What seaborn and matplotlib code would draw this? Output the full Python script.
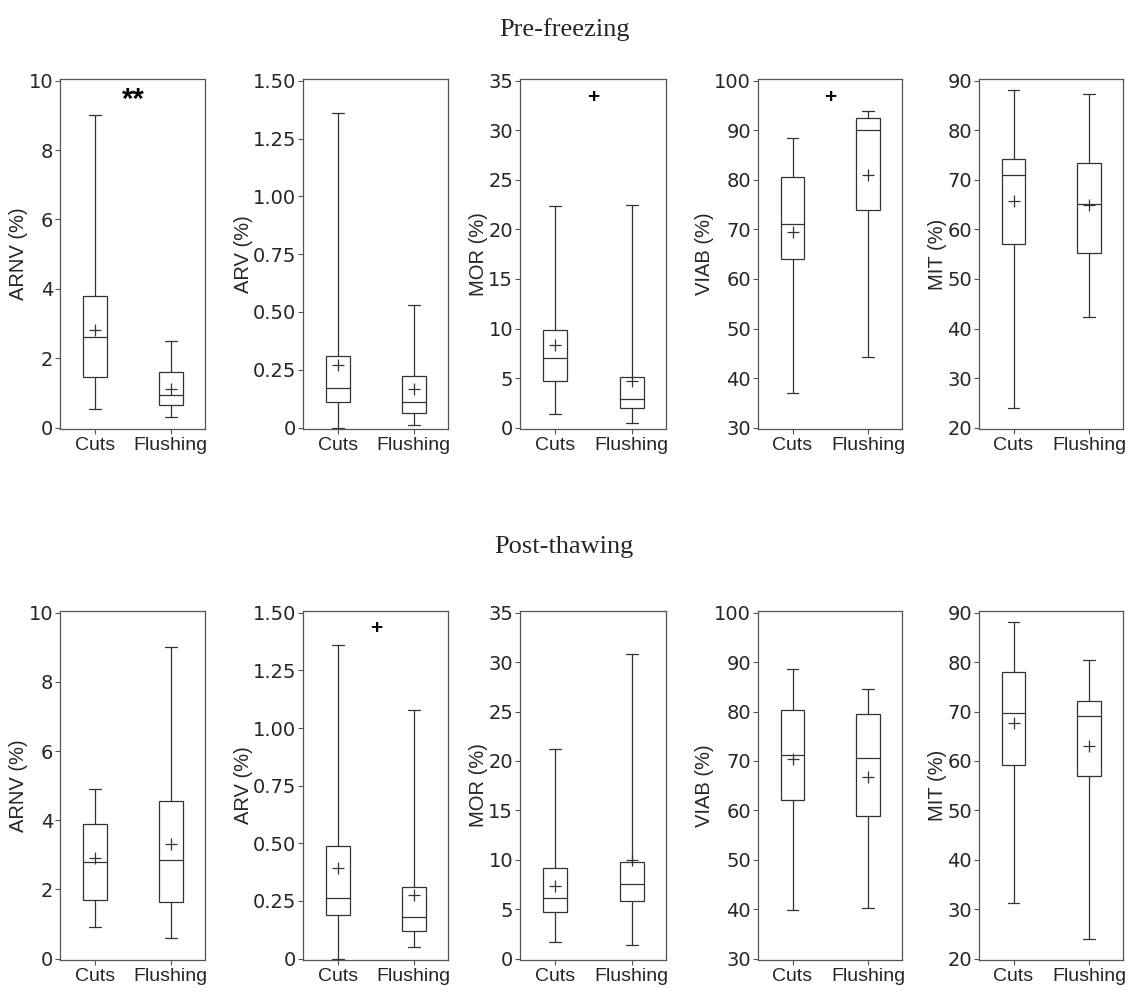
import numpy as np
import pandas as pd
import matplotlib
matplotlib.use("Agg")
import matplotlib.pyplot as plt
import seaborn as sns

# ---------------- data ----------------
variables = ["ARNV", "ARV", "MOR", "VIAB", "MIT"]
groups = ["Cuts", "Flushing"]
stages = ["Pre-freezing", "Post-thawing"]

# Pre-freezing, Cuts
pre_cuts_min = [0.55, 0.00, 1.4, 37.0, 24.0]
pre_cuts_q1 = [1.45, 0.11, 4.7, 64.0, 57.0]
pre_cuts_med = [2.60, 0.17, 7.0, 71.0, 71.0]
pre_cuts_q3 = [3.80, 0.31, 9.8, 80.5, 74.2]
pre_cuts_max = [9.00, 1.36, 22.4, 88.5, 88.2]
pre_cuts_mean = [2.80, 0.27, 8.3, 69.5, 65.8]
# Pre-freezing, Flushing
pre_flush_min = [0.30, 0.010, 0.5, 44.3, 42.3]
pre_flush_q1 = [0.65, 0.065, 2.0, 74.0, 55.3]
pre_flush_med = [0.95, 0.110, 2.9, 90.0, 65.1]
pre_flush_q3 = [1.60, 0.225, 5.1, 92.5, 73.4]
pre_flush_max = [2.50, 0.530, 22.5, 93.8, 87.3]
pre_flush_mean = [1.10, 0.165, 4.7, 81.0, 65.0]
# Post-thawing, Cuts
post_cuts_min = [0.90, 0.000, 1.7, 39.8, 31.2]
post_cuts_q1 = [1.70, 0.190, 4.7, 62.2, 59.2]
post_cuts_med = [2.80, 0.265, 6.1, 71.2, 69.8]
post_cuts_q3 = [3.90, 0.490, 9.2, 80.4, 78.0]
post_cuts_max = [4.90, 1.360, 21.2, 88.6, 88.2]
post_cuts_mean = [2.90, 0.395, 7.3, 70.3, 67.6]
# Post-thawing, Flushing
post_flush_min = [0.60, 0.050, 1.4, 40.3, 24.0]
post_flush_q1 = [1.65, 0.120, 5.8, 58.8, 57.0]
post_flush_med = [2.85, 0.180, 7.5, 70.7, 69.1]
post_flush_q3 = [4.55, 0.310, 9.8, 79.6, 72.1]
post_flush_max = [9.00, 1.080, 30.8, 84.5, 80.4]
post_flush_mean = [3.30, 0.275, 9.95, 66.8, 63.1]

# axis settings per variable
y_ticks = [[0, 2, 4, 6, 8, 10],
           [0, 0.25, 0.5, 0.75, 1.0, 1.25, 1.5],
           [0, 5, 10, 15, 20, 25, 30, 35],
           [30, 40, 50, 60, 70, 80, 90, 100],
           [20, 30, 40, 50, 60, 70, 80, 90]]
y_ticklabels = [["0", "2", "4", "6", "8", "10"],
                ["0", "0.25", "0.50", "0.75", "1.00", "1.25", "1.50"],
                ["0", "5", "10", "15", "20", "25", "30", "35"],
                ["30", "40", "50", "60", "70", "80", "90", "100"],
                ["20", "30", "40", "50", "60", "70", "80", "90"]]
y_labels = ["ARNV (%)", "ARV (%)", "MOR (%)", "VIAB (%)", "MIT (%)"]

# significance annotations: (stage, variable index, text, y)
annotations = [("Pre-freezing", 0, "**", 9.45),
               ("Pre-freezing", 2, "+", 33.3),
               ("Pre-freezing", 3, "+", 96.6),
               ("Post-thawing", 1, "+", 1.43)]

# ---------------- build long tables ----------------
stats = {
    ("Pre-freezing", "Cuts"): (pre_cuts_min, pre_cuts_q1, pre_cuts_med, pre_cuts_q3, pre_cuts_max, pre_cuts_mean),
    ("Pre-freezing", "Flushing"): (pre_flush_min, pre_flush_q1, pre_flush_med, pre_flush_q3, pre_flush_max, pre_flush_mean),
    ("Post-thawing", "Cuts"): (post_cuts_min, post_cuts_q1, post_cuts_med, post_cuts_q3, post_cuts_max, post_cuts_mean),
    ("Post-thawing", "Flushing"): (post_flush_min, post_flush_q1, post_flush_med, post_flush_q3, post_flush_max, post_flush_mean),
}
rows, mean_rows = [], []
for (stage, grp), (mn, q1, md, q3, mx, me) in stats.items():
    for i, var in enumerate(variables):
        # five summary values: with whis=(0,100) their quartiles reproduce the box
        for v in (mn[i], q1[i], md[i], q3[i], mx[i]):
            rows.append(dict(stage=stage, variable=var, group=grp, value=v))
        mean_rows.append(dict(stage=stage, variable=var, group=grp, mean=me[i]))
df = pd.DataFrame(rows)
dfm = pd.DataFrame(mean_rows)

# ---------------- style ----------------
sns.set_theme(style="ticks")
plt.rcParams["font.family"] = ["Liberation Sans", "DejaVu Sans"]

W, H = 1128, 993
fig = plt.figure(figsize=(W / 100, H / 100), dpi=100)
fig.patch.set_facecolor("white")

col_px = [(60, 205), (303, 448), (520, 666), (758, 902), (979, 1123)]
row_px = [(79, 429), (611, 960)]
line_c = "#333333"
spine_c = "#555555"

for r, stage in enumerate(stages):
    for c, var in enumerate(variables):
        x0, x1 = col_px[c]
        t0, b0 = row_px[r]
        ax = fig.add_axes([x0 / W, 1 - b0 / H, (x1 - x0) / W, (b0 - t0) / H])
        sub = df[(df.stage == stage) & (df.variable == var)]
        subm = dfm[(dfm.stage == stage) & (dfm.variable == var)]
        sns.boxplot(data=sub, x="group", y="value", order=groups, whis=(0, 100),
                    width=0.31, color="white", linecolor=line_c, linewidth=0.9,
                    fliersize=0, ax=ax)
        sns.pointplot(data=subm, x="group", y="mean", order=groups, color=line_c,
                      markers="+", linestyles="none", errorbar=None,
                      markersize=9, markeredgewidth=0.9, ax=ax)
        ticks = y_ticks[c]
        rng = ticks[-1] - ticks[0]
        ax.set_ylim(ticks[0] - 0.004 * rng, ticks[-1] + 0.005 * rng)
        ax.set_yticks(ticks)
        ax.set_yticklabels(y_ticklabels[c], fontsize=14,
                           family=["DejaVu Sans"])
        ax.set_xlim(-0.457, 1.448)
        ax.set_xticks(range(len(groups)))
        ax.set_xticklabels(groups, fontsize=14)
        ax.set_xlabel("")
        ax.set_ylabel(y_labels[c], fontsize=14.5, labelpad=0)
        ax.tick_params(axis="both", length=3.5, width=0.8,
                       color=spine_c, pad=1.5, direction="out")
        ax.tick_params(axis="x", pad=2.5)
        for s in ax.spines.values():
            s.set_visible(True)
            s.set_color(spine_c)
            s.set_linewidth(0.9)
        for st, vi, txt, yv in annotations:
            if st == stage and vi == c:
                if txt == "**":
                    ax.text(0.5, yv, txt, ha="center", va="center", fontsize=21,
                            fontweight="bold", color="black")
                else:
                    ax.text(0.5, yv, txt, ha="center", va="center", fontsize=15,
                            fontweight="bold", color="black")

fig.text(0.5, 1 - 30 / H, "Pre-freezing", ha="center", va="center",
         fontsize=19, family=["Liberation Serif", "DejaVu Serif"])
fig.text(0.5, 1 - 547 / H, "Post-thawing", ha="center", va="center",
         fontsize=19, family=["Liberation Serif", "DejaVu Serif"])

fig.savefig("out.png", dpi=100, facecolor="white")
